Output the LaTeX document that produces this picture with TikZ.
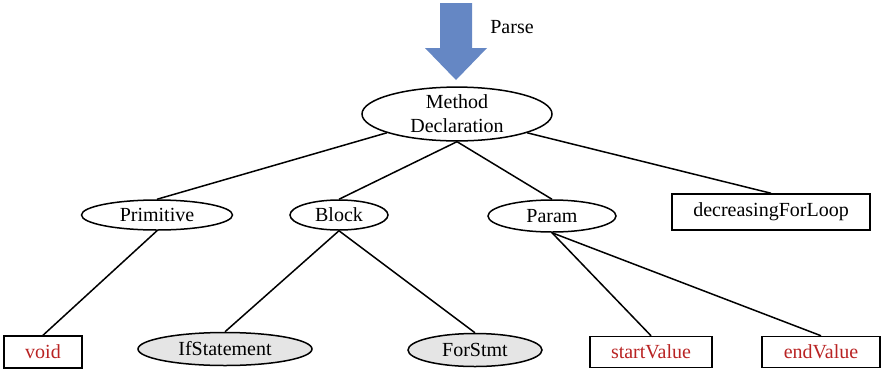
\documentclass[tikz,border=0pt]{standalone}
\usepackage{fontspec}
\setmainfont{Liberation Serif}
\usetikzlibrary{shapes.geometric}
\definecolor{arrowblue}{RGB}{101,135,196}
\definecolor{leafred}{RGB}{185,35,35}
\definecolor{stmtgray}{RGB}{229,229,229}
\tikzset{
  treeline/.style={line width=1.5pt, black},
  oval/.style={ellipse, draw, line width=1.5pt, inner sep=0pt, font=\fontsize{20}{24}\selectfont},
  stmt/.style={oval, fill=stmtgray},
  box/.style={rectangle, draw, line width=1.5pt, inner sep=0pt, font=\fontsize{20}{24}\selectfont},
  leaf/.style={box, text=leafred},
}
\begin{document}
\begin{tikzpicture}[x=1pt,y=-1pt]
\useasboundingbox (0,0) rectangle (884,373);

% parse arrow
\fill[arrowblue] (440,3) -- (472,3) -- (472,48) -- (487,48) -- (456,80) -- (425,48) -- (440,48) -- cycle;
\node[font=\fontsize{20}{24}\selectfont] (parse) at (512,27) {Parse};

% root
\node[oval, minimum width=190pt, minimum height=47pt, align=center,
      font=\fontsize{20}{24}\selectfont] (md) at (457,114) {Method\\Declaration};

% second level
\node[oval, minimum width=151pt, minimum height=30pt] (prim) at (157,215) {Primitive};
\node[oval, minimum width=98pt, minimum height=30pt] (block) at (339,215) {Block};
\node[oval, minimum width=128pt, minimum height=32pt] (param) at (552,216) {Param};
\node[box, minimum width=198pt, minimum height=36pt] (dfl) at (771,212) {decreasingForLoop};

% leaves
\node[leaf, minimum width=78pt, minimum height=32pt] (void) at (43,352) {void};
\node[stmt, minimum width=174pt, minimum height=33pt] (ifs) at (225,349) {IfStatement};
\node[stmt, minimum width=134pt, minimum height=33pt] (fors) at (475,350) {ForStmt};
\node[leaf, minimum width=122pt, minimum height=31pt] (start) at (651,352) {startValue};
\node[leaf, minimum width=118pt, minimum height=31pt] (endv) at (821,352) {endValue};

% connectors
\draw[treeline] (md.195) -- (prim.north);
\draw[treeline] (md.south) -- (block.north);
\draw[treeline] (md.south) -- (param.north);
\draw[treeline] (md.-15) -- (dfl.north);
\draw[treeline] (prim.south) -- (void.north);
\draw[treeline] (block.south) -- (ifs.north);
\draw[treeline] (block.south) -- (fors.north);
\draw[treeline] (param.south) -- (start.north);
\draw[treeline] (param.south) -- (endv.north);
\end{tikzpicture}
\end{document}
